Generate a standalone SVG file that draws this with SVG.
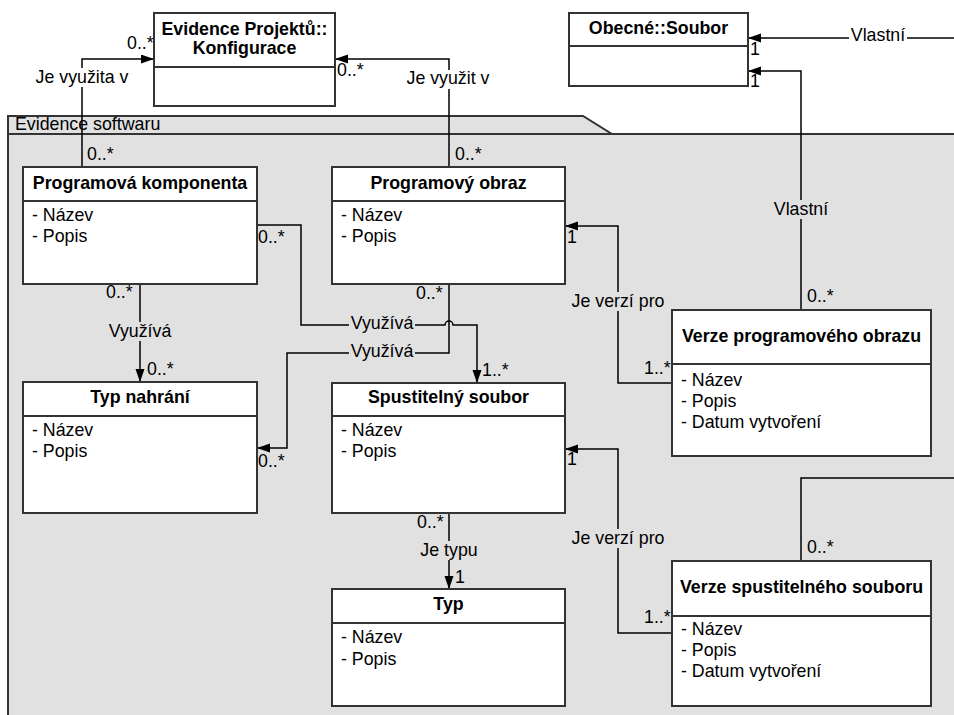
<svg xmlns="http://www.w3.org/2000/svg" width="954" height="715" viewBox="0 0 954 715">
  <defs>
    <marker id="arrow" markerUnits="userSpaceOnUse" markerWidth="14" markerHeight="10" refX="13" refY="4.5" orient="auto">
      <path d="M0,0 L13,4.5 L0,9 Z" fill="#000"/>
    </marker>
    <style>
      text { font-family: "Liberation Sans", Arial, sans-serif; font-size: 17.8px; fill: #000; }
      .title { font-weight: bold; text-anchor: middle; }
      .mid { text-anchor: middle; }
      .box { fill: #fff; stroke: #333; stroke-width: 2; }
      .sep { stroke: #333; stroke-width: 2; }
      .conn { fill: none; stroke: #000; stroke-width: 1.5; }
      .arr { marker-end: url(#arrow); }
      .bgw { fill: #fff; }
      .bgg { fill: #e1e1e1; }
    </style>
  </defs>

  <rect width="954" height="715" fill="#fff"/>

  <!-- Package "Evidence softwaru" -->
  <g id="pkg-evidence-softwaru">
    <path d="M8,134 V720 H960 V134 L612,134 L583,116 H8 V134" fill="#e1e1e1" stroke="#333" stroke-width="2"/>
    <line x1="8" y1="134" x2="960" y2="134" stroke="#333" stroke-width="2"/>
    <text x="15" y="130">Evidence softwaru</text>
  </g>

  <!-- Connectors -->
  <g id="connectors">
    <!-- Programová komponenta -> Konfigurace -->
    <path class="conn arr" d="M82,167 V59 H154"/>
    <!-- Programový obraz -> Konfigurace -->
    <path class="conn arr" d="M449,167 V59 H335"/>
    <!-- Programová komponenta -> Spustitelný soubor (hop over crossing line) -->
    <path class="conn arr" d="M257,225 H301 V325 H445 A4,4 0 0 1 453,325 H477 V383"/>
    <!-- Programový obraz -> Typ nahrání -->
    <path class="conn arr" d="M449,284 V353 H287 V448 H257"/>
    <!-- Programová komponenta -> Typ nahrání -->
    <path class="conn arr" d="M140,284 V382"/>
    <!-- Spustitelný soubor -> Typ -->
    <path class="conn arr" d="M449,513 V589"/>
    <!-- Verze programového obrazu -> Programový obraz -->
    <path class="conn arr" d="M672,383 H618 V226 H565"/>
    <!-- Verze spustitelného souboru -> Spustitelný soubor -->
    <path class="conn arr" d="M672,633 H618 V449 H565"/>
    <!-- Verze programového obrazu -> Soubor -->
    <path class="conn arr" d="M801,310 V71 H748"/>
    <!-- Verze spustitelného souboru -> Soubor (routed round the right edge) -->
    <path class="conn" d="M801,561 V478 H960"/>
    <path class="conn arr" d="M960,38 H748"/>

    <!-- label backgrounds -->
    <rect class="bgw" x="33" y="68" width="98" height="19"/>
    <rect class="bgw" x="405" y="70" width="88" height="19"/>
    <rect class="bgw" x="849" y="28" width="58" height="18"/>
    <rect class="bgg" x="349" y="314" width="66" height="19"/>
    <rect class="bgg" x="349" y="342" width="66" height="19"/>
    <rect class="bgg" x="107" y="322" width="66" height="19"/>
    <rect class="bgg" x="419" y="541" width="60" height="19"/>
    <rect class="bgg" x="569" y="292" width="98" height="19"/>
    <rect class="bgg" x="569" y="529" width="98" height="19"/>
    <rect class="bgg" x="772" y="200" width="58" height="19"/>

    <!-- association labels -->
    <text class="mid" x="82" y="83">Je využita v</text>
    <text class="mid" x="448" y="84">Je využit v</text>
    <text class="mid" x="878" y="41">Vlastní</text>
    <text class="mid" x="382" y="329">Využívá</text>
    <text class="mid" x="382" y="357">Využívá</text>
    <text class="mid" x="140" y="337">Využívá</text>
    <text class="mid" x="449" y="556">Je typu</text>
    <text class="mid" x="618" y="307">Je verzí pro</text>
    <text class="mid" x="618" y="544">Je verzí pro</text>
    <text class="mid" x="801" y="215">Vlastní</text>

    <!-- multiplicities -->
    <text x="127" y="49">0..*</text>
    <text x="87" y="160">0..*</text>
    <text x="337" y="76">0..*</text>
    <text x="455" y="160">0..*</text>
    <text x="258" y="243">0..*</text>
    <text x="482" y="376">1..*</text>
    <text x="416" y="299">0..*</text>
    <text x="258" y="467">0..*</text>
    <text x="106" y="298">0..*</text>
    <text x="147" y="375">0..*</text>
    <text x="417" y="528">0..*</text>
    <text x="455" y="583">1</text>
    <text x="567" y="243">1</text>
    <text x="644" y="374">1..*</text>
    <text x="567" y="465">1</text>
    <text x="644" y="623">1..*</text>
    <text x="807" y="302">0..*</text>
    <text x="807" y="553">0..*</text>
    <text x="750" y="87">1</text>
    <text x="750" y="55">1</text>
  </g>

  <!-- Classes -->
  <g id="konfigurace">
    <rect class="box" x="154" y="13" width="181" height="93"/>
    <line class="sep" x1="154" y1="67" x2="335" y2="67"/>
    <text class="title" x="244.5" y="35">Evidence Projektů::</text>
    <text class="title" x="244.5" y="54">Konfigurace</text>
  </g>

  <g id="soubor">
    <rect class="box" x="569" y="13" width="179" height="73"/>
    <line class="sep" x1="569" y1="46" x2="748" y2="46"/>
    <text class="title" x="658.5" y="34">Obecné::Soubor</text>
  </g>

  <g id="programova-komponenta">
    <rect class="box" x="23" y="167" width="234" height="117"/>
    <line class="sep" x1="23" y1="201" x2="257" y2="201"/>
    <text class="title" x="140" y="189">Programová komponenta</text>
    <text x="32" y="221">- Název</text>
    <text x="32" y="242">- Popis</text>
  </g>

  <g id="programovy-obraz">
    <rect class="box" x="332" y="167" width="233" height="117"/>
    <line class="sep" x1="332" y1="201" x2="565" y2="201"/>
    <text class="title" x="448.5" y="189">Programový obraz</text>
    <text x="341" y="221">- Název</text>
    <text x="341" y="242">- Popis</text>
  </g>

  <g id="typ-nahrani">
    <rect class="box" x="23" y="382" width="234" height="131"/>
    <line class="sep" x1="23" y1="416" x2="257" y2="416"/>
    <text class="title" x="140" y="403">Typ nahrání</text>
    <text x="32" y="436">- Název</text>
    <text x="32" y="457">- Popis</text>
  </g>

  <g id="spustitelny-soubor">
    <rect class="box" x="332" y="383" width="233" height="130"/>
    <line class="sep" x1="332" y1="416" x2="565" y2="416"/>
    <text class="title" x="448.5" y="403">Spustitelný soubor</text>
    <text x="341" y="436">- Název</text>
    <text x="341" y="457">- Popis</text>
  </g>

  <g id="typ">
    <rect class="box" x="332" y="589" width="233" height="117"/>
    <line class="sep" x1="332" y1="623" x2="565" y2="623"/>
    <text class="title" x="448.5" y="610">Typ</text>
    <text x="341" y="643">- Název</text>
    <text x="341" y="665">- Popis</text>
  </g>

  <g id="verze-programoveho-obrazu">
    <rect class="box" x="672" y="310" width="259" height="146"/>
    <line class="sep" x1="672" y1="364" x2="931" y2="364"/>
    <text class="title" x="801.5" y="342">Verze programového obrazu</text>
    <text x="681" y="386">- Název</text>
    <text x="681" y="407">- Popis</text>
    <text x="681" y="428">- Datum vytvoření</text>
  </g>

  <g id="verze-spustitelneho-souboru">
    <rect class="box" x="672" y="561" width="259" height="145"/>
    <line class="sep" x1="672" y1="616" x2="931" y2="616"/>
    <text class="title" x="801.5" y="593">Verze spustitelného souboru</text>
    <text x="681" y="635">- Název</text>
    <text x="681" y="656">- Popis</text>
    <text x="681" y="677">- Datum vytvoření</text>
  </g>
</svg>
